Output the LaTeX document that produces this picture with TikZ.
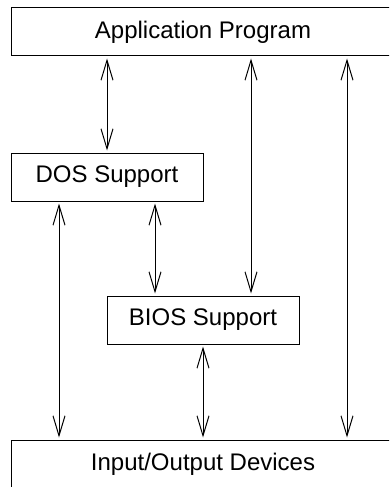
\documentclass[tikz,border=0pt]{standalone}
\usepackage{fontspec}
\setmainfont{Liberation Sans}
\usetikzlibrary{arrows.meta,calc}
\begin{document}
\begin{tikzpicture}[x=1pt,y=1pt,
  box/.style={draw,line width=1pt,inner sep=0pt,minimum height=48pt,font=\fontsize{24}{28}\selectfont},
  arr/.style={line width=1pt,{Straight Barb[length=20pt,width=12pt]}-{Straight Barb[length=20pt,width=12pt]},shorten <=2pt,shorten >=2pt}]
\useasboundingbox (0,0) rectangle (389,-487);
\clip (0,0) rectangle (389,-487);
\node[box,minimum width=384pt] (app) at (203,-32) {Application Program};
\node[box,minimum width=192pt] (dos) at (107,-177) {DOS Support};
\node[box,minimum width=192pt] (bios) at (203,-320) {BIOS Support};
\node[box,minimum width=384pt] (io) at (203,-464) {Input/Output Devices};
\coordinate (c1) at ($(bios.north)+(48,0)$);
\coordinate (c2) at ($(app.south)+(144,0)$);
\coordinate (c3) at ($(dos.south)+(48,0)$);
\coordinate (c4) at ($(dos.south)+(-48,0)$);
\draw[arr] (app.south -| dos.north) -- (dos.north);
\draw[arr] (app.south -| c1) -- (c1);
\draw[arr] (c2) -- (io.north -| c2);
\draw[arr] (c3) -- (bios.north -| c3);
\draw[arr] (c4) -- (io.north -| c4);
\draw[arr] (bios.south) -- (io.north -| bios.south);
\end{tikzpicture}
\end{document}
